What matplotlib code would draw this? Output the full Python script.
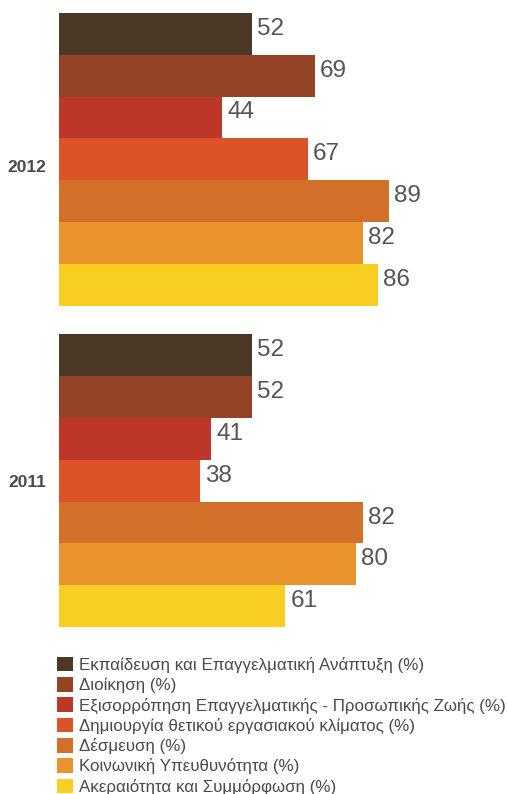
import numpy as np
import matplotlib
matplotlib.use("Agg")
import matplotlib.pyplot as plt
from matplotlib.patches import Patch

plt.rcParams["font.family"] = ["Liberation Sans", "DejaVu Sans"]

# ── Data ──────────────────────────────────────────────────────────────
categories = [
    "Εκπαίδευση και Επαγγελματική Ανάπτυξη (%)",
    "Διοίκηση (%)",
    "Εξισορρόπηση Επαγγελματικής - Προσωπικής Ζωής (%)",
    "Δημιουργία θετικού εργασιακού κλίματος (%)",
    "Δέσμευση (%)",
    "Κοινωνική Υπευθυνότητα (%)",
    "Ακεραιότητα και Συμμόρφωση (%)",
]
years = ["2012", "2011"]
values_2012 = [52, 69, 44, 67, 89, 82, 86]
values_2011 = [52, 52, 41, 38, 82, 80, 61]

colors = ["#4B3826", "#954327", "#BC3629", "#DE5228",
          "#D27029", "#EA932D", "#F8CE22"]
text_grey = "#4a4a4a"

# ── Figure ────────────────────────────────────────────────────────────
fig = plt.figure(figsize=(5.07, 7.94), dpi=100)
fig.patch.set_facecolor("white")

W, H = 507, 794
ax = fig.add_axes([59 / W, (H - 627) / H, (W - 59) / W, (627 - 13) / H])

n = len(categories)
gap = 0.69
group_start = [0, n + gap]

for g, vals in enumerate([values_2012, values_2011]):
    pos = group_start[g] + np.arange(n)
    bars = ax.barh(pos, vals, height=1.0, color=colors, linewidth=0)
    for b, v in zip(bars, vals):
        ax.annotate(f"{v}", xy=(b.get_width(), b.get_y() + b.get_height() / 2),
                    xytext=(5, 5), textcoords="offset pixels",
                    ha="left", va="center", fontsize=17.5, color="#555555")

ax.set_xlim(0, 448 / 3.71)
ax.set_ylim(group_start[1] + n - 0.5, -0.5)
ax.set_yticks([group_start[0] + (n - 1) / 2 + 0.15, group_start[1] + (n - 1) / 2])
ax.set_yticklabels(years, fontsize=12.5, fontweight="bold", color=text_grey)
ax.tick_params(axis="y", length=0, pad=9)
ax.set_xticks([])
for s in ax.spines.values():
    s.set_visible(False)

handles = [Patch(facecolor=c, edgecolor="none") for c in colors]
fig.legend(handles, categories, loc="upper left",
           bbox_to_anchor=(50 / W, (H - 650) / H), frameon=False,
           fontsize=12.2, handlelength=0.95, handleheight=0.95,
           handletextpad=0.35, labelspacing=0.245, borderaxespad=0,
           labelcolor=text_grey)

fig.savefig("out.png", dpi=100, facecolor="white")
